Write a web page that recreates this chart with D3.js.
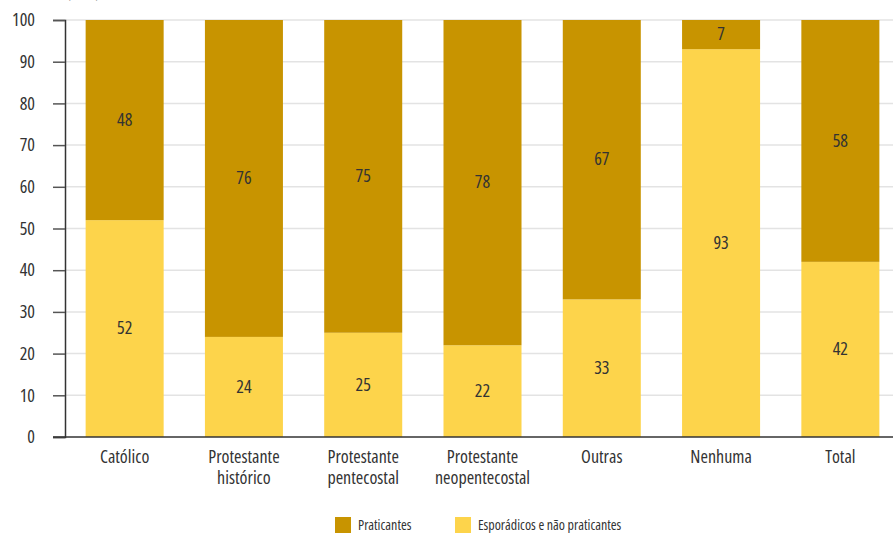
<!DOCTYPE html>
<html>
<head>
<meta charset="utf-8">
<script src="https://cdn.jsdelivr.net/npm/d3@7"></script>
<style>
  html, body { margin: 0; padding: 0; background: #fff; }
  svg { display: block; }
  text { font-family: "Open Sans", sans-serif; font-stretch: 75%; fill: #333; }
</style>
</head>
<body>
<svg id="chart" width="893" height="533"></svg>
<script>
// Religious groups (category labels, split into lines)
const categories = [
  ["Católico"],
  ["Protestante", "histórico"],
  ["Protestante", "pentecostal"],
  ["Protestante", "neopentecostal"],
  ["Outras"],
  ["Nenhuma"],
  ["Total"]
];
// Share of occasional / non-practising members (%)
const esporadicos = [52, 24, 25, 22, 33, 93, 42];
// Share of practising members (%)
const praticantes = [48, 76, 75, 78, 67, 7, 58];
const yTicks = [0, 10, 20, 30, 40, 50, 60, 70, 80, 90, 100];
const seriesNames = ["Praticantes", "Esporádicos e não praticantes"];
const colors = { praticantes: "#C89400", esporadicos: "#FDD44B" };

const svg = d3.select("#chart");
const plotLeft = 65, plotTop = 20, plotBottom = 437, plotRight = 900;
const mainSize = 18;

const x = d3.scaleBand()
  .domain(d3.range(categories.length))
  .range([plotLeft, plotRight])
  .paddingInner(0.346)
  .paddingOuter(0.173);

const y = d3.scaleLinear().domain([0, 100]).range([plotBottom, plotTop]);

// gridlines
svg.append("g")
  .selectAll("line")
  .data(yTicks.filter(d => d > 0))
  .join("line")
  .attr("x1", plotLeft).attr("x2", 893)
  .attr("y1", d => y(d)).attr("y2", d => y(d))
  .attr("stroke", "#e3e3e3").attr("stroke-width", 1.5);

// axis title, mostly above the frame
svg.append("text")
  .attr("x", 67).attr("y", -2)
  .attr("font-size", 13)
  .text("(Em %)");

// y axis
const yAxis = svg.append("g")
  .attr("transform", `translate(${plotLeft},0)`)
  .call(d3.axisLeft(y).tickValues(yTicks).tickSize(12).tickPadding(18));
yAxis.select(".domain").attr("stroke", "#333").attr("stroke-width", 1.5);
yAxis.selectAll(".tick line").attr("stroke", "#555").attr("stroke-width", 1.5);
yAxis.selectAll(".tick text")
  .attr("font-size", mainSize)
  .attr("font-family", null)
  .attr("fill", "#333");

// stacked bars
const stack = categories.map((c, i) => ({ i, e: esporadicos[i], p: praticantes[i] }));

const bars = svg.append("g");
bars.selectAll("rect.esp")
  .data(stack)
  .join("rect")
  .attr("class", "esp")
  .attr("x", d => x(d.i))
  .attr("width", x.bandwidth())
  .attr("y", d => y(d.e))
  .attr("height", d => y(0) - y(d.e))
  .attr("fill", colors.esporadicos);

bars.selectAll("rect.prat")
  .data(stack)
  .join("rect")
  .attr("class", "prat")
  .attr("x", d => x(d.i))
  .attr("width", x.bandwidth())
  .attr("y", d => y(d.e + d.p))
  .attr("height", d => y(d.e) - y(d.e + d.p))
  .attr("fill", colors.praticantes);

// value labels
const labels = svg.append("g").attr("font-size", mainSize).attr("text-anchor", "middle");
labels.selectAll("text.esp")
  .data(stack)
  .join("text")
  .attr("x", d => x(d.i) + x.bandwidth() / 2)
  .attr("y", d => y(d.e / 2))
  .attr("dy", "0.32em")
  .text(d => d.e);
labels.selectAll("text.prat")
  .data(stack)
  .join("text")
  .attr("x", d => x(d.i) + x.bandwidth() / 2)
  .attr("y", d => y(d.e + d.p / 2))
  .attr("dy", "0.32em")
  .text(d => d.p);

// x axis baseline
svg.append("line")
  .attr("x1", 53).attr("x2", 893)
  .attr("y1", plotBottom).attr("y2", plotBottom)
  .attr("stroke", "#333").attr("stroke-width", 1.5);

// category labels
const cat = svg.append("g").attr("font-size", mainSize).attr("text-anchor", "middle");
cat.selectAll("text")
  .data(categories.map((c, i) => ({ c, i })))
  .join("text")
  .attr("x", d => x(d.i) + x.bandwidth() / 2)
  .attr("y", 463)
  .each(function(d) {
    d3.select(this).selectAll("tspan")
      .data(d.c)
      .join("tspan")
      .attr("x", x(d.i) + x.bandwidth() / 2)
      .attr("dy", (t, k) => k === 0 ? 0 : 21)
      .text(t => t);
  });

// legend
const legendItems = [
  { name: seriesNames[0], color: colors.praticantes, x: 335 },
  { name: seriesNames[1], color: colors.esporadicos, x: 455 }
];
const legend = svg.append("g");
legend.selectAll("rect")
  .data(legendItems)
  .join("rect")
  .attr("x", d => d.x).attr("y", 517)
  .attr("width", 16).attr("height", 16)
  .attr("fill", d => d.color);
legend.selectAll("text")
  .data(legendItems)
  .join("text")
  .attr("x", d => d.x + 23).attr("y", 530)
  .attr("font-size", 14)
  .text(d => d.name);
</script>
</body>
</html>
